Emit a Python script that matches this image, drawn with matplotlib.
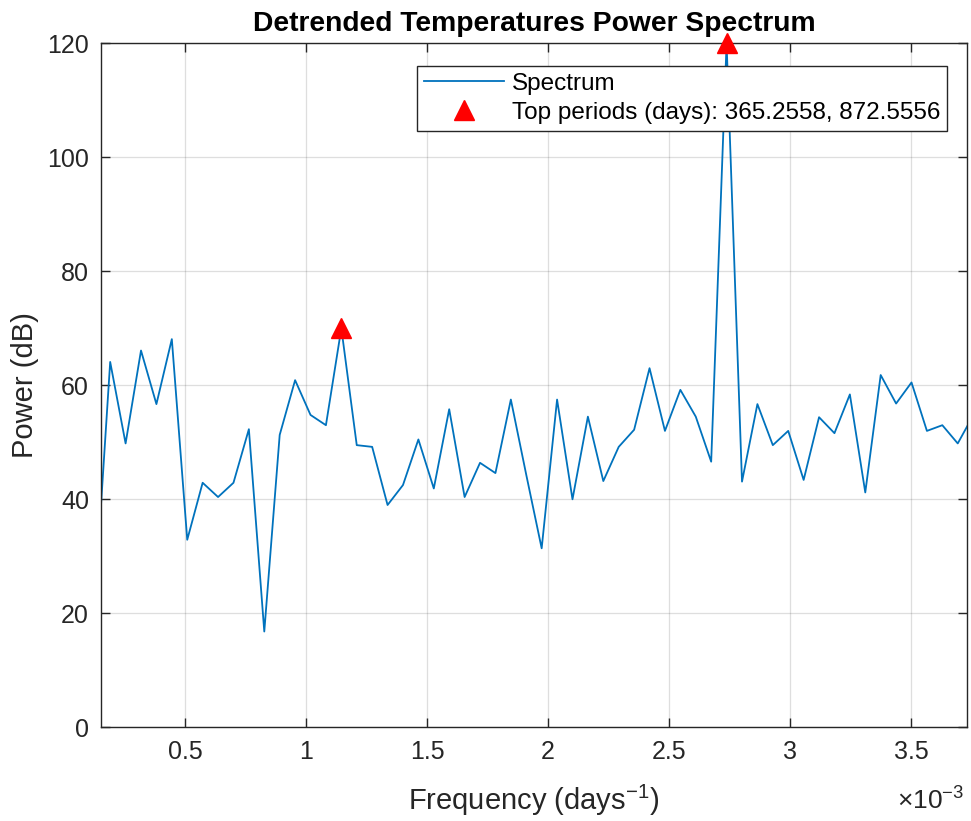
import numpy as np
import matplotlib
matplotlib.use('Agg')
import matplotlib.pyplot as plt
from matplotlib.ticker import FuncFormatter, MultipleLocator

plt.rcParams['font.family'] = ['Liberation Sans', 'DejaVu Sans']
plt.rcParams['mathtext.fontset'] = 'custom'
plt.rcParams['mathtext.rm'] = 'Liberation Sans'
plt.rcParams['mathtext.it'] = 'Liberation Sans:italic'
plt.rcParams['mathtext.bf'] = 'Liberation Sans:bold'

# record length in days, spectrum bins k = 2..59 (k / record_days cycles per day)
record_days = 15706
bins = np.arange(2, 60)
freq = bins / record_days

power_db = [22.0, 64.1, 49.8, 66.1, 56.7, 68.1, 32.9, 42.9, 40.4, 42.9,
            52.3, 16.8, 51.3, 60.9, 54.8, 53.0, 70.0, 49.5, 49.2, 39.0,
            42.5, 50.5, 41.9, 55.8, 40.4, 46.4, 44.6, 57.5, 44.3, 31.4,
            57.5, 40.0, 54.5, 43.2, 49.2, 52.2, 63.0, 52.0, 59.2, 54.5,
            46.6, 120.0, 43.1, 56.7, 49.5, 52.0, 43.4, 54.4, 51.6, 58.4,
            41.2, 61.8, 56.8, 60.5, 52.0, 53.0, 49.8, 54.7]

top_periods = [365.2558, 872.5556]
top_bins = [43, 18]

power_db = np.array(power_db)
peak_f = [1.0 / p for p in top_periods]
peak_p = [power_db[list(bins).index(b)] for b in top_bins]

dark = '#262626'
fig = plt.figure(figsize=(9.71, 8.21), dpi=100)
ax = fig.add_axes([0.1045, 0.1141, 0.8911, 0.8332])

ax.plot(freq, power_db, color='#0072BD', lw=1.3, label='Spectrum')
ax.plot(peak_f, peak_p, linestyle='none', marker='^', color='red', ms=14,
        clip_on=False, zorder=5,
        label='Top periods (days): %.4f, %.4f' % tuple(top_periods))

ax.set_xlim(0.155e-3, 3.73e-3)
ax.set_ylim(0, 120)
ax.xaxis.set_major_locator(MultipleLocator(0.5e-3))
ax.yaxis.set_major_locator(MultipleLocator(20))
ax.xaxis.set_major_formatter(FuncFormatter(lambda v, pos: '%g' % round(v * 1e3, 6)))

ax.grid(True, color=dark, alpha=0.15, lw=0.9)
ax.set_axisbelow(True)
for s in ax.spines.values():
    s.set_color(dark)
    s.set_linewidth(1.0)
ax.tick_params(direction='in', length=6.2, width=1.0, color=dark,
               labelcolor=dark, labelsize=18, top=True, right=True, pad=9)

ax.set_title('Detrended Temperatures Power Spectrum', fontsize=20.3,
             fontweight='bold', color='black', pad=8.5)
ax.set_xlabel('Frequency (days$^{-1}$)', fontsize=21, color=dark)
ax.set_ylabel('Power (dB)', fontsize=21, color=dark)
ax.xaxis.set_label_coords(0.5, -0.0814)
ax.yaxis.set_label_coords(-0.0717, 0.5)
fig.text(0.9928, 0.0134, r'$\times$10$^{-3}$', ha='right', va='baseline',
         fontsize=19, color=dark)

leg = ax.legend(loc='upper right', bbox_to_anchor=(0.977, 0.967), fontsize=17.5,
                frameon=True, fancybox=False, edgecolor=dark, framealpha=1,
                borderpad=0.28, labelspacing=0.3, handlelength=3.3,
                handletextpad=0.3, borderaxespad=0)
leg.get_frame().set_linewidth(1.0)

plt.savefig('out.png', dpi=100)
